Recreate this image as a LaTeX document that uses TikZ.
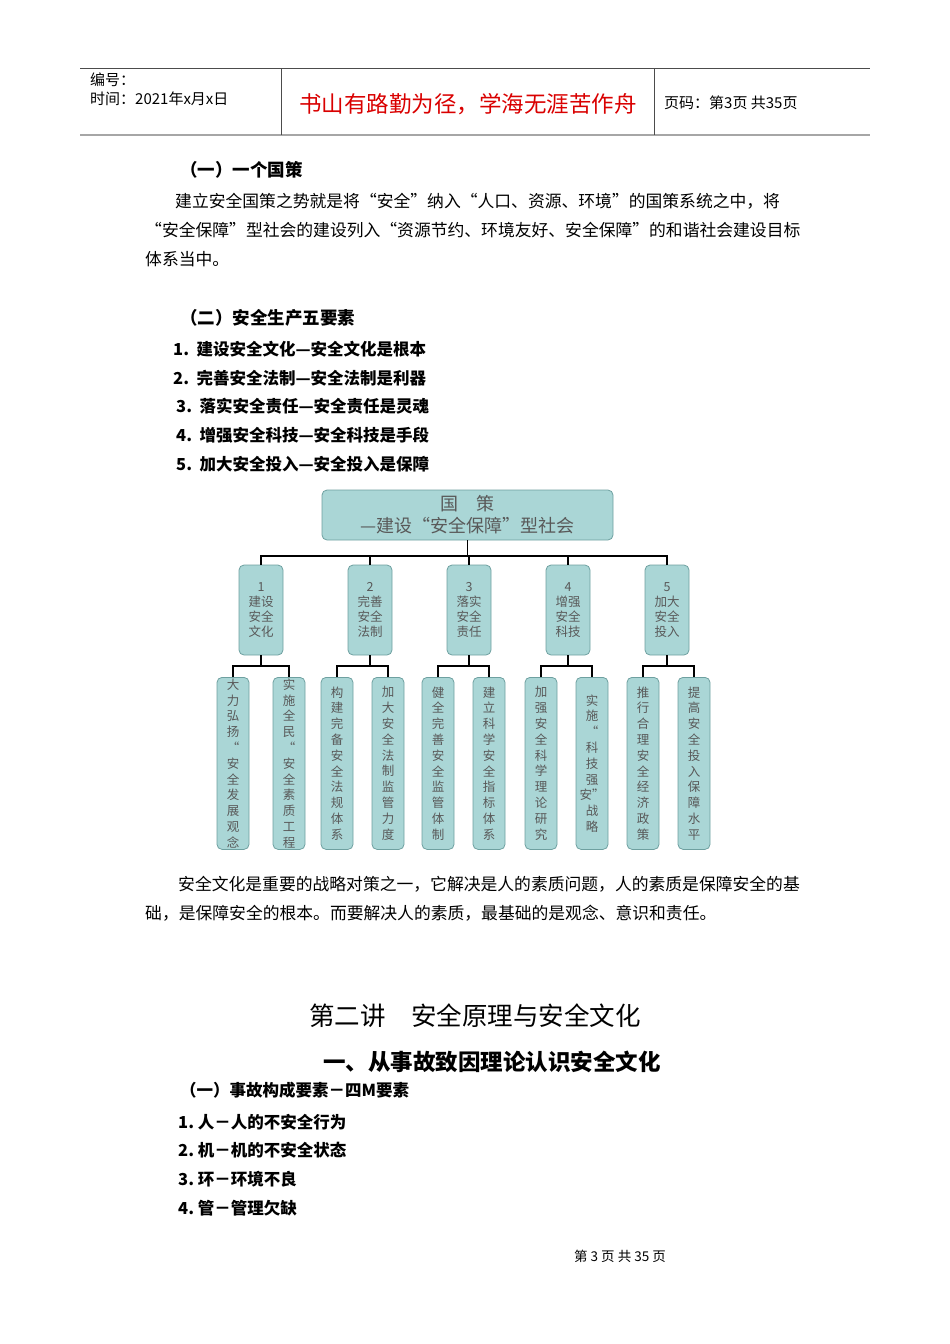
\documentclass[tikz,border=0pt]{standalone}
\usepackage{fontspec}
\setmainfont{Noto Sans CJK SC}
\definecolor{tealfill}{RGB}{170,214,214}
\definecolor{tealdraw}{RGB}{110,160,160}
\begin{document}
\begin{tikzpicture}[x=1pt,y=-1pt,
  every node/.style={inner sep=0pt},
  body/.style={anchor=west,font=\fontsize{16.8}{18}\selectfont},
  bodyb/.style={anchor=west,font=\fontsize{16.5}{18}\selectfont\bfseries},
  box/.style={draw=tealdraw,line width=0.8pt,fill=tealfill,rounded corners=5pt},
  lbox/.style={box,minimum width=44pt,minimum height=90pt,align=center,text=gray!70!black,font=\fontsize{12.5}{15}\selectfont},
  sbox/.style={box,minimum width=32pt,minimum height=172pt,align=center,text=gray!70!black,font=\fontsize{12.5}{15.8}\selectfont,anchor=north},
  con/.style={line width=1.4pt,black}]
\useasboundingbox (0,0) rectangle (950,1344);
% header
\draw[gray!60!black,line width=0.6pt] (80,68) -- (870,68);
\draw[gray!70,line width=1.6pt] (80,135) -- (870,135);
\draw[gray!60!black,line width=0.6pt] (281,68) -- (281,135) (654,68) -- (654,135);
\node[anchor=west,font=\fontsize{15}{16}\selectfont] (h1) at (90,80) {编号：};
\node[anchor=west,font=\fontsize{15}{16}\selectfont] (h2) at (90,99) {时间：2021年x月x日};
\node[font=\fontsize{22.5}{24}\selectfont,text=red!85!black] (h3) at (468,104) {书山有路勤为径，学海无涯苦作舟};
\node[anchor=west,font=\fontsize{15}{16}\selectfont] (h4) at (664,103) {页码：第3页\ 共35页};
% section 1
\node[bodyb,font=\fontsize{17.5}{18}\selectfont\bfseries] (s1) at (180,170) {（一）一个国策};
\node[body] (p1) at (175,201) {建立安全国策之势就是将“安全”纳入“人口、资源、环境”的国策系统之中，将};
\node[body] (p2) at (145,230) {“安全保障”型社会的建设列入“资源节约、环境友好、安全保障”的和谐社会建设目标};
\node[body] (p3) at (145,259) {体系当中。};
\node[bodyb,font=\fontsize{17.5}{18}\selectfont\bfseries] (s2) at (180,318) {（二）安全生产五要素};
\node[bodyb] (l1) at (173,349) {1.\ \ 建设安全文化—安全文化是根本};
\node[bodyb] (l2) at (173,378) {2.\ \ 完善安全法制—安全法制是利器};
\node[bodyb] (l3) at (176,406) {3.\ \ 落实安全责任—安全责任是灵魂};
\node[bodyb] (l4) at (176,435) {4.\ \ 增强安全科技—安全科技是手段};
\node[bodyb] (l5) at (176,464) {5.\ \ 加大安全投入—安全投入是保障};
% diagram
\node[box,minimum width=291pt,minimum height=50pt,align=center,text=gray!70!black,font=\fontsize{18}{22}\selectfont] (top) at (467.5,515) {国\quad 策\\—建设“安全保障”型社会};
\node[lbox] (a1) at (261,610) {1\\建设\\安全\\文化};
\node[lbox] (a2) at (370,610) {2\\完善\\安全\\法制};
\node[lbox] (a3) at (469,610) {3\\落实\\安全\\责任};
\node[lbox] (a4) at (568,610) {4\\增强\\安全\\科技};
\node[lbox] (a5) at (667,610) {5\\加大\\安全\\投入};
\draw[con] (top.south) -- (467.5,556) coordinate (j0);
\draw[con] (a1.north) |- (j0) -| (a5.north);
\foreach \i in {2,3,4} \draw[con] (a\i.north) -- (a\i.north |- j0);
\node[sbox] (b1) at (233,677) {大\\力\\弘\\扬\\“\\安\\全\\发\\展\\观\\念};
\node[sbox] (b2) at (289,677) {实\\施\\全\\民\\“\\安\\全\\素\\质\\工\\程};
\node[sbox] (b3) at (337,677) {构\\建\\完\\备\\安\\全\\法\\规\\体\\系};
\node[sbox] (b4) at (388,677) {加\\大\\安\\全\\法\\制\\监\\管\\力\\度};
\node[sbox] (b5) at (438,677) {健\\全\\完\\善\\安\\全\\监\\管\\体\\制};
\node[sbox] (b6) at (489,677) {建\\立\\科\\学\\安\\全\\指\\标\\体\\系};
\node[sbox] (b7) at (541,677) {加\\强\\安\\全\\科\\学\\理\\论\\研\\究};
\node[sbox] (b8) at (592,677) {实\\施\\“\\科\\技\\强\\安”\\战\\略};
\node[sbox] (b9) at (643,677) {推\\行\\合\\理\\安\\全\\经\\济\\政\\策};
\node[sbox] (b10) at (694,677) {提\\高\\安\\全\\投\\入\\保\\障\\水\\平};
\foreach \p/\l/\r in {1/1/2,2/3/4,3/5/6,4/7/8,5/9/10}{
  \draw[con] (a\p.south) -- (a\p.south |- 0,666) coordinate (k\p);
  \draw[con] (b\l.north) |- (k\p) -| (b\r.north);
}
% after diagram
\node[body] (p4) at (178,884) {安全文化是重要的战略对策之一，它解决是人的素质问题，人的素质是保障安全的基};
\node[body] (p5) at (145,913) {础，是保障安全的根本。而要解决人的素质，最基础的是观念、意识和责任。};
\node[font=\fontsize{25.5}{28}\selectfont] (t1) at (475,1016) {第二讲\quad 安全原理与安全文化};
\node[font=\fontsize{22.5}{24}\selectfont\bfseries] (t2) at (492,1062) {一、从事故致因理论认识安全文化};
\node[bodyb] (s3) at (180,1090) {（一）事故构成要素－四M要素};
\node[bodyb] (m1) at (178,1122) {1.\ 人－人的不安全行为};
\node[bodyb] (m2) at (178,1150) {2.\ 机－机的不安全状态};
\node[bodyb] (m3) at (178,1179) {3.\ 环－环境不良};
\node[bodyb] (m4) at (178,1208) {4.\ 管－管理欠缺};
\node[font=\fontsize{13.5}{14}\selectfont] (f) at (620,1256) {第\ 3\ 页\ 共\ 35\ 页};
\end{tikzpicture}
\end{document}
